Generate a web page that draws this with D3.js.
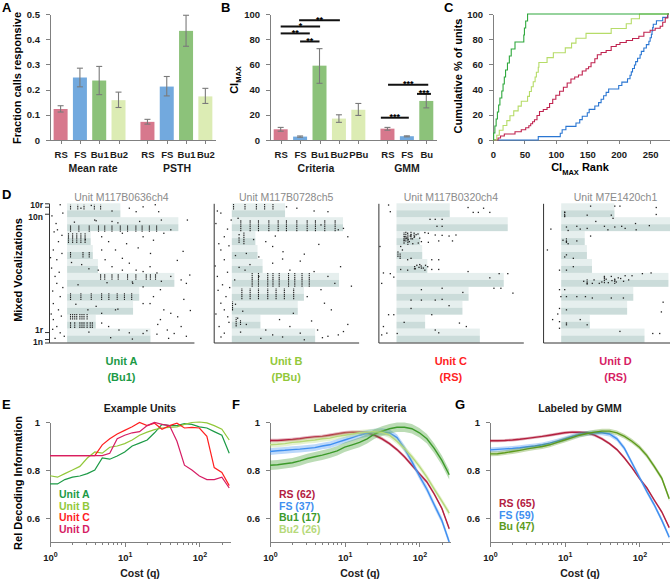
<!DOCTYPE html>
<html>
<head>
<meta charset="utf-8">
<script src="https://cdn.jsdelivr.net/npm/d3@7"></script>
<style>
body { margin: 0; background: #fff; }
svg { font-family: "Liberation Sans", Arial, sans-serif; }
.axis path, .axis line { stroke: #808080; shape-rendering: crispEdges; }
.axis text { fill: #1a1a1a; font-weight: bold; font-size: 9.5px; font-family: "Liberation Sans", Arial, sans-serif; }
.raxis path, .raxis line { stroke: #333; }
.raxis text { fill: #1a1a1a; font-weight: bold; font-size: 8.5px; font-family: "Liberation Sans", Arial, sans-serif; }
</style>
</head>
<body>
<script>
// ---------- A: fraction of calls responsive ----------
const typesA = ['RS', 'FS', 'Bu1', 'Bu2'];
const meanRate = [0.123, 0.248, 0.236, 0.158];
const meanRateLo = [0.111, 0.211, 0.180, 0.129];
const meanRateHi = [0.136, 0.285, 0.292, 0.190];
const psth = [0.072, 0.212, 0.433, 0.173];
const psthLo = [0.063, 0.175, 0.372, 0.145];
const psthHi = [0.082, 0.252, 0.495, 0.205];

// ---------- B: CI max ----------
const typesCrit = ['RS', 'FS', 'Bu1', 'Bu2', 'PBu'];
const ciCrit = [8.5, 2.7, 59, 17, 24];
const ciCritLo = [7, 2.2, 45, 14, 19.5];
const ciCritHi = [10, 3.2, 72.5, 20, 29];
const typesGmm = ['RS', 'FS', 'Bu'];
const ciGmm = [9, 3, 31];
const ciGmmLo = [7.8, 2.5, 25.5];
const ciGmmHi = [10, 3.3, 36.5];
// [from slot, to slot, level, stars]
const sigB = [
	[0.95, 3.05, 95, '**'],
	[0, 2.03, 90, '*'],
	[0, 1.5, 84.6, '**'],
	[1, 2, 78.2, '**'],
	[5.53, 7.6, 43.8, '***'],
	[7.02, 7.74, 36.6, '***'],
	[5.16, 6.6, 17.7, '***']
];

// ---------- C: cumulative CI rank ----------
const cdfBu1 = [[0,0],[1,5.6],[3,11.1],[5,16.7],[7,22.2],[9,27.8],[11,33.3],[14,38.9],[16,44.4],[18,50],[20,55.6],[23,61.1],[26,66.7],[29,72.2],[35,77.8],[49,83.3],[50,88.9],[52,94.4],[55,100],[280,100]];
const cdfBu2 = [[0,0],[6,3.8],[10,7.7],[16,11.5],[22,15.4],[27,19.2],[33,23.1],[40,26.9],[45,30.8],[55,34.6],[58,38.5],[61,42.3],[64,46.2],[67,50],[69,53.8],[72,57.7],[73,61.5],[86,65.4],[96,69.2],[115,73.1],[125,76.9],[132,80.8],[148,84.6],[188,88.5],[212,92.3],[220,96.2],[233,100],[280,100]];
const cdfRS = [[0,0],[8,1.6],[12,3.2],[18,4.8],[35,6.5],[45,8.1],[52,9.7],[57,11.3],[60,12.9],[63,14.5],[66,16.1],[70,19.4],[74,22.6],[80,24.2],[86,25.8],[90,29],[95,32.3],[100,35.5],[106,38.7],[112,41.9],[118,45.2],[124,48.4],[130,50],[136,51.6],[142,54.8],[148,56.5],[152,58.1],[156,61.3],[162,64.5],[166,67.7],[172,69.4],[180,71],[188,74.2],[196,75.8],[202,77.4],[212,79],[222,80.6],[232,82.3],[240,85.5],[250,87.1],[258,88.7],[266,90.3],[270,93.5],[274,96.8],[278,100],[280,100]];
const cdfFS = [[0,0],[72,2.7],[107,5.4],[110,8.1],[116,10.8],[132,13.5],[138,16.2],[142,18.9],[150,21.6],[153,24.3],[162,27],[168,29.7],[172,32.4],[176,35.1],[180,37.8],[184,40.5],[200,43.2],[205,45.9],[214,48.6],[218,51.4],[220,54.1],[222,56.8],[225,59.5],[227,62.2],[230,64.9],[234,67.6],[236,70.3],[240,73],[244,75.7],[248,78.4],[250,81.1],[252,83.8],[253,86.5],[254,89.2],[255,91.9],[260,94.6],[270,97.3],[278,100],[280,100]];

// ---------- D: rasters ----------
const stimDur = [1150, 395, 910, 995, 1480, 425, 355, 325, 1535, 735]; // ms, vocalizations 1..10
const rowTicks = [0.5, 1.5, 18.5, 19.5];
const rowLabels = ['1n', '1r', '10n', '10r'];
// phase-locked spike columns [t ms, row from, row to]
const colsA = [[47,19.1,19.8],[147,19.1,19.8],[233,19.1,19.8],[376,19.1,19.8],[462,19.1,19.8],
	[47,15.9,16.9],[162,15.9,16.9],[305,15.9,16.9],[433,15.9,16.9],[519,15.9,16.9],[619,15.9,16.9],[734,15.9,16.9],[834,15.9,16.9],[949,15.9,16.9],[1035,15.9,16.9],[1135,15.9,16.9],[1235,15.9,16.9],
	[19,14.3,15.7],[76,14.3,15.7],[133,14.3,15.7],[190,14.3,15.7],[248,14.3,15.7],
	[47,12.2,13.0],[219,12.2,13.0],[305,12.2,13.0],
	[462,9.0,9.9],[519,9.0,9.9],[619,9.0,9.9],[705,9.0,9.9],[834,9.0,9.9],[949,9.0,9.9],[1092,9.0,9.9],[1149,9.0,9.9],[1220,9.0,9.9],
	[47,6.1,7.1],[190,6.1,7.1],[333,6.1,7.1],[476,6.1,7.1],[576,6.1,7.1],[691,6.1,7.1],[791,6.1,7.1],[891,6.1,7.1],
	[47,3.3,4.2],[76,3.3,4.2],[105,3.3,4.2],[133,3.3,4.2],[176,3.3,4.2],[205,3.3,4.2],[233,3.3,4.2],[276,3.3,4.2],
	[47,2.1,3.0],[105,2.1,3.0],[176,2.1,3.0],[205,2.1,3.0],[233,2.1,3.0],[276,2.1,3.0],[319,2.1,3.0],[348,2.1,3.0]];
const dotsA = [[-96,19.8],[190,19.3],[333,19.7],[858,19.3],[952,18.8],[1048,19.5],[1216,19.8],[1263,18.8],[1659,17.6],[-153,17.1],[-134,16.2],[-72,15.4],[-120,14.5],[-191,13.3],[-72,12.8],[-143,11.9],[-215,10.7],[-167,9.5],[-143,8.5],[-96,6.6],[-191,5.6],[-120,4.7],[-191,3.3],[-143,2.3],[-96,1.4],[-167,0.6],[476,15.2],[572,14.5],[667,13.3],[762,12.1],[858,11.4],[476,13.3],[524,11.9],[429,10.4],[619,10.9],[762,10.4],[952,10.4],[1048,10.2],[1144,10.9],[1239,10],[1430,9.5],[1573,9],[1645,8.5],[1692,9.7],[1287,7.6],[1191,6.6],[1048,5.6],[1144,5.6],[1334,4.7],[1430,4.2],[1525,3.7],[1287,3.3],[476,2.8],[572,2.3],[715,1.8],[858,1.4],[1048,1.3],[1239,1.2],[1382,1.8],[1477,1.3],[1573,2.3],[1645,0.9],[1048,8],[905,8.5],[286,4.7],[476,4.2],[667,4.7],[380,17.6],[619,17.4],[762,15.7],[1048,15.2],[1191,14.7],[1334,15.7],[1430,16.2],[619,18.9],
	[100,17.3],[400,17.5],[700,17.2],[1000,17.4],[1300,17.6],[250,14.8],[60,11.5],[200,11.2],[300,10.6],[150,8.3],[550,8.6],[900,8.7],[1300,8.8],[120,5.5],[400,5.2],[700,4.8],[300,1.5],[600,0.7],[900,0.5],[1100,1.7],
	[-210,18.2],[-60,18.6],[-180,15.9],[-230,12.2],[-110,10.1],[-200,7.4],[-60,7.9],[-220,4.1],[-80,3.8],[-200,1.9],[-40,0.9],[1520,11.8],[1610,6.2],[1700,4.6],[1250,2.6],[1400,0.6],[1150,12.8],[980,13.6],[820,14.2],[1600,13.1]];
const colsB = [[24,19.1,19.9],[182,19.1,19.9],[339,19.1,19.9],[453,19.1,19.9],[568,19.1,19.9],
	[124,16.0,17.6],[253,16.0,17.6],[368,16.0,17.6],[511,16.0,17.6],[640,16.0,17.6],[754,16.0,17.6],[897,16.0,17.6],[1040,16.0,17.6],[1154,16.0,17.6],[1283,16.0,17.6],[1426,16.0,17.6],
	[167,14.1,15.8],[100,14.3,15.2],
	[281,8.0,10.0],[368,8.0,10.0],[496,8.0,10.0],[568,8.0,10.0],[654,8.0,10.0],[783,8.0,10.0],[869,8.0,10.0],[969,8.0,10.0],[1069,8.0,10.0],
	[139,6.2,7.8],[253,6.2,7.8],[368,6.2,7.8],[496,6.2,7.8],[611,6.2,7.8],[725,6.2,7.8],[854,6.2,7.8],
	[10,4.6,5.9],[60,2.3,3.6],[120,2.5,3.2]];
const dotsB = [[-152,18.6],[-200,18.9],[-9,17.6],[86,17.85],[-104,15.2],[-152,13.3],[-104,11.9],[-200,9.5],[-129,8.3],[-81,6.6],[-152,5.65],[-104,4.7],[-57,3.7],[-176,2.3],[-104,1.35],[754,19.5],[897,19.3],[1135,18.9],[1326,18.8],[1469,16.2],[1540,16.4],[1230,16.9],[468,14.5],[563,13.8],[706,13.05],[372,12.3],[563,11.4],[801,10.4],[944,11.7],[1135,10.2],[1326,9.5],[1421,8.5],[1230,7.6],[1040,6.6],[1278,5.65],[1373,4.7],[849,4.2],[658,3.3],[468,1.8],[563,1.1],[801,2.3],[944,1.35],[1183,1.8],[1326,0.9],[1469,1.1],[1540,1.58],[182,10.4],[372,9.5],[39,9.0],
	[100,15.5],[300,14.8],[600,15.3],[50,12.5],[200,12.8],[100,10.8],[250,11.2],[50,5.5],[150,4.5],[80,3.5],[200,2.6],[120,1.5],[400,0.6],[700,0.8],[1000,0.4],
	[-220,17.1],[-60,16.3],[-180,14.2],[-40,13.9],[-230,11.0],[-60,10.1],[-190,7.5],[-30,7.9],[-220,4.1],[-40,2.9],[-150,0.8],[1600,15.2],[1200,14.1],[1000,12.7],[1500,10.9],[1650,8.1],[1100,3.1],[1600,2.6],[1250,0.7],[700,12.0]];
const colsC = [[104,14.2,15.8],[129,14.5,15.9],[157,14.0,15.6],[200,14.8,15.9],[243,15.0,15.8],[20,12.3,13.2],[50,12.0,12.8]];
const dotsC = [[-110,19.76],[-86,18.8],[987,19.4],[1058,18.7],[1129,18.7],[1287,18.7],[1201,19.3],[462,17.7],[534,17.7],[629,17.7],[558,16.7],[629,16.7],[153,15.7],[200,15.45],[248,15.2],[296,15.6],[391,15.8],[439,15.7],[534,15.45],[629,15.4],[725,15.3],[820,15.45],[105,14.7],[176,14.5],[224,14.2],[343,14.5],[439,14.4],[582,14.6],[772,14.6],[57,13.8],[81,13.3],[-229,13.8],[153,11.9],[200,12.1],[486,11.9],[582,11.9],[57,10.5],[153,10.4],[248,10.6],[343,10.7],[391,10.4],[486,10.5],[582,10.5],[-181,10.0],[-86,9.9],[-38,9.4],[-205,8.5],[987,10.2],[1287,9.3],[1416,9.9],[1535,9.9],[1606,7.1],[1440,7.8],[1344,7.8],[343,7.6],[629,7.8],[915,7.2],[200,6.1],[343,6.1],[534,6.1],[629,6.2],[725,5.3],[200,4.9],[-110,4.0],[-38,4.0],[105,2.9],[486,4.0],[868,2.8],[963,2.3],[-181,2.3],[-134,1.35],[-205,1.1],[9,1.3],[534,1.8],[582,1.4],
	[250,10.9],[280,11.1],[310,10.8],[340,11.0],[370,10.7],[400,11.1],[430,10.9],[260,10.6],[320,11.2],[110,15.2],[140,15.0],[160,14.8],[190,15.3],[220,14.9],[270,15.5],[300,14.3],[320,15.0]];
const colsD = [[48,18.0,18.9],[72,14.3,15.0],[358,8.3,9.2],[596,8.5,9.6],[739,8.4,9.3]];
const dotsD = [[405,19.6],[739,19.6],[810,19.6],[1311,19.4],[1311,18.4],[48,18.7],[48,18.2],[358,18.3],[691,18.3],[715,17.85],[477,17.4],[215,16.7],[72,16.6],[95,16.1],[262,16.3],[358,16.4],[596,16.7],[644,16.2],[739,16.6],[834,16.7],[882,16.4],[1025,17.1],[1034,16.2],[1216,16.8],[-143,16.3],[24,14.7],[72,14.5],[95,14.2],[215,14.6],[405,15.3],[-191,13.3],[72,12.6],[48,12.3],[167,12.1],[167,10.9],[-24,10.4],[72,10.4],[310,8.8],[358,8.5],[429,8.5],[453,9.0],[525,8.5],[596,9.4],[691,9.5],[739,9.0],[787,9.3],[882,9.6],[930,9.0],[977,9.6],[1120,9.9],[1240,10.0],[1692,9.4],[-24,7.6],[48,7.6],[-5,6.6],[72,6.6],[215,6.6],[334,6.6],[429,6.4],[691,6.4],[858,6.4],[-24,4.9],[72,4.7],[-48,4.1],[-119,3.3],[-24,3.0],[72,2.8],[262,3.3],[358,2.55],[1406,5.8],[1382,4.4],[810,1.6],[1263,1.3],[1359,1.3],[-24,2.05],[72,2.55],
	[560,8.7],[620,9.1],[650,8.6],[700,8.9],[760,8.7],[820,9.2],[860,8.8]];
const unitIds = ['Unit M117B0636ch4', 'Unit M117B0728ch5', 'Unit M117B0320ch4', 'Unit M7E1420ch1'];
const unitNames = ['Unit A', 'Unit B', 'Unit C', 'Unit D'];
const unitTypes = ['(Bu1)', '(PBu)', '(RS)', '(RS)'];

// ---------- E-G: decoding vs cost ----------
const costQ = [1, 1.26, 1.58, 2, 2.51, 3.16, 3.98, 5.01, 6.31, 7.94, 10, 12.6, 15.8, 20, 25.1, 31.6, 39.8, 50.1, 63.1, 79.4, 100, 126, 158, 200, 251];
const infoUnitA = [0.742,0.742,0.76,0.77,0.775,0.785,0.80,0.85,0.845,0.858,0.875,0.90,0.912,0.925,0.955,0.99,0.985,0.985,0.993,0.99,0.98,0.975,0.96,0.945,0.87];
const infoUnitB = [0.776,0.77,0.785,0.80,0.815,0.85,0.875,0.87,0.895,0.90,0.91,0.925,0.945,0.958,0.968,0.975,0.978,0.98,0.99,0.998,1.0,0.996,0.985,0.97,0.925];
const infoUnitC = [0.86,0.86,0.86,0.86,0.86,0.86,0.86,0.905,0.93,0.95,0.965,0.98,0.998,0.985,0.995,0.97,0.985,0.995,0.975,0.978,0.975,0.94,0.81,0.79,0.735];
const infoUnitD = [0.86,0.86,0.86,0.86,0.86,0.86,0.86,0.86,0.87,0.93,0.945,0.955,0.96,0.985,0.998,0.99,0.985,0.92,0.82,0.80,0.775,0.76,0.76,0.77,0.725];
const critRS = [0.923,0.923,0.925,0.927,0.93,0.935,0.938,0.94,0.945,0.95,0.955,0.958,0.957,0.955,0.945,0.93,0.91,0.885,0.855,0.82,0.785,0.75,0.70,0.64,0.555];
const critFS = [0.877,0.88,0.882,0.885,0.887,0.89,0.893,0.90,0.905,0.915,0.925,0.935,0.945,0.953,0.958,0.96,0.955,0.935,0.89,0.835,0.775,0.72,0.655,0.59,0.50];
const critBu1 = [0.82,0.822,0.826,0.83,0.838,0.848,0.855,0.862,0.87,0.88,0.895,0.905,0.915,0.93,0.95,0.962,0.972,0.978,0.978,0.972,0.955,0.93,0.89,0.84,0.78];
const critBu2 = [0.905,0.907,0.91,0.915,0.918,0.922,0.925,0.93,0.933,0.94,0.945,0.95,0.955,0.958,0.96,0.957,0.945,0.92,0.89,0.855,0.815,0.77,0.72,0.67,0.62];
const semCrit = [0.007, 0.014, 0.02, 0.012];
const gmmRS = [0.922,0.922,0.923,0.925,0.928,0.932,0.936,0.94,0.945,0.95,0.955,0.958,0.957,0.955,0.945,0.93,0.91,0.885,0.85,0.81,0.765,0.725,0.675,0.625,0.56];
const gmmFS = [0.884,0.886,0.888,0.89,0.893,0.897,0.90,0.905,0.912,0.92,0.93,0.94,0.948,0.953,0.955,0.955,0.95,0.93,0.89,0.83,0.77,0.71,0.655,0.59,0.52];
const gmmBu = [0.867,0.868,0.872,0.877,0.882,0.888,0.893,0.898,0.905,0.915,0.925,0.935,0.945,0.952,0.958,0.962,0.962,0.955,0.94,0.92,0.895,0.86,0.815,0.765,0.68];
const semGmm = [0.006, 0.01, 0.01];

const color = {
	RS: '#d7788d', FS: '#72a9de', Bu1: '#8cc27a', Bu2: '#dcecb4', PBu: '#dcecb4', Bu: '#8cc27a'
};

const svg = d3.select('body').append('svg').attr('width', 670).attr('height', 580);

function letter(x, y, t) {
	svg.append('text').attr('x', x).attr('y', y).attr('font-size', 13).attr('font-weight', 'bold').text(t);
}
function boldText(x, y, t, size, fill, anchor) {
	return svg.append('text').attr('x', x).attr('y', y).attr('font-size', size).attr('font-weight', 'bold')
		.attr('fill', fill || '#1a1a1a').attr('text-anchor', anchor || 'middle').text(t);
}

// grouped bars, positioned by slot
function barPanel(xRange, yDomain, yTicks, yFmt, items) {
	const x = d3.scaleLinear().domain([-0.55, 8]).range(xRange);
	const y = d3.scaleLinear().domain(yDomain).range([140, 14]);
	const g = svg.append('g');
	g.append('g').attr('class', 'axis').attr('transform', 'translate(0,140)')
		.call(d3.axisBottom(x).tickValues(items.map(d => d.slot)).tickFormat((d, i) => items[i].label)
			.tickSize(4).tickSizeOuter(0).tickPadding(7));
	g.append('g').attr('class', 'axis').attr('transform', `translate(${xRange[0]},0)`)
		.call(d3.axisLeft(y).tickValues(yTicks).tickFormat(yFmt).tickSize(4).tickSizeOuter(0).tickPadding(6));
	g.selectAll('rect.bar').data(items).enter().append('rect')
		.attr('x', d => x(d.slot) - 7).attr('width', 14)
		.attr('y', d => y(d.v)).attr('height', d => y(0) - y(d.v))
		.attr('fill', d => color[d.label]);
	const eb = g.selectAll('g.eb').data(items).enter().append('g').attr('stroke', '#7a7a7a').attr('stroke-width', 1.1);
	eb.append('line').attr('x1', d => x(d.slot)).attr('x2', d => x(d.slot)).attr('y1', d => y(d.lo)).attr('y2', d => y(d.hi));
	eb.append('line').attr('x1', d => x(d.slot) - 3).attr('x2', d => x(d.slot) + 3).attr('y1', d => y(d.lo)).attr('y2', d => y(d.lo));
	eb.append('line').attr('x1', d => x(d.slot) - 3).attr('x2', d => x(d.slot) + 3).attr('y1', d => y(d.hi)).attr('y2', d => y(d.hi));
	return { x, y, g };
}

// ---------- A ----------
letter(2, 12, 'A');
const itemsA = typesA.map((t, i) => ({ slot: i, label: t, v: meanRate[i], lo: meanRateLo[i], hi: meanRateHi[i] }))
	.concat(typesA.map((t, i) => ({ slot: 4.5 + i, label: t, v: psth[i], lo: psthLo[i], hi: psthHi[i] })));
barPanel([50, 215], [0, 0.5], [0, 0.1, 0.2, 0.3, 0.4, 0.5], d => (d === 0 ? '0' : d3.format('.1f')(d)), itemsA);
boldText(93, 172, 'Mean rate', 10.5);
boldText(177, 172, 'PSTH', 10.5);
svg.append('text').attr('transform', 'translate(21,78) rotate(-90)').attr('text-anchor', 'middle')
	.attr('font-size', 11).attr('font-weight', 'bold').text('Fraction calls responsive');

// ---------- B ----------
letter(221, 12, 'B');
const itemsB = typesCrit.map((t, i) => ({ slot: i, label: t, v: ciCrit[i], lo: ciCritLo[i], hi: ciCritHi[i] }))
	.concat(typesGmm.map((t, i) => ({ slot: 5.5 + i, label: t, v: ciGmm[i], lo: ciGmmLo[i], hi: ciGmmHi[i] })));
const pB = barPanel([270, 436], [0, 100], [0, 20, 40, 60, 80, 100], d3.format('d'), itemsB);
const sigG = svg.append('g');
sigB.forEach(s => {
	sigG.append('line').attr('x1', pB.x(s[0])).attr('x2', pB.x(s[1])).attr('y1', pB.y(s[2])).attr('y2', pB.y(s[2]))
		.attr('stroke', '#111').attr('stroke-width', 2);
	sigG.append('text').attr('x', (pB.x(s[0]) + pB.x(s[1])) / 2).attr('y', pB.y(s[2]) + 2.5).attr('text-anchor', 'middle')
		.attr('font-size', 9).attr('font-weight', 'bold').text(s[3]);
});
boldText(316, 172, 'Criteria', 10.5);
boldText(407, 172, 'GMM', 10.5);
const ciLab = svg.append('text').attr('transform', 'translate(238,80) rotate(-90)').attr('text-anchor', 'middle')
	.attr('font-size', 11).attr('font-weight', 'bold');
ciLab.append('tspan').text('CI');
ciLab.append('tspan').attr('font-size', 7.5).attr('dy', 3).text('MAX');

// ---------- C ----------
letter(444, 12, 'C');
const xC = d3.scaleLinear().domain([0, 280]).range([493, 669]);
const yC = d3.scaleLinear().domain([0, 100]).range([140, 14]);
svg.append('g').attr('class', 'axis').attr('transform', 'translate(0,140)')
	.call(d3.axisBottom(xC).tickValues([0, 50, 100, 150, 200, 250]).tickSize(4).tickSizeOuter(0).tickPadding(7));
svg.append('g').attr('class', 'axis').attr('transform', 'translate(493,0)')
	.call(d3.axisLeft(yC).tickValues([0, 20, 40, 60, 80, 100]).tickSize(4).tickSizeOuter(0).tickPadding(6));
const stepLine = d3.line().x(d => xC(d[0])).y(d => yC(d[1])).curve(d3.curveStepAfter);
[[cdfFS, '#2a76d2'], [cdfRS, '#c0234f'], [cdfBu2, '#b6dc68'], [cdfBu1, '#2ea83c']].forEach(s => {
	svg.append('path').datum(s[0]).attr('d', stepLine).attr('fill', 'none').attr('stroke', s[1]).attr('stroke-width', 1.1);
});
const rankLab = svg.append('text').attr('x', 580).attr('y', 171).attr('text-anchor', 'middle')
	.attr('font-size', 11).attr('font-weight', 'bold');
rankLab.append('tspan').text('CI');
rankLab.append('tspan').attr('font-size', 7.5).attr('dy', 3.5).text('MAX');
rankLab.append('tspan').attr('dy', -3.5).text(' Rank');
svg.append('text').attr('transform', 'translate(462,76) rotate(-90)').attr('text-anchor', 'middle')
	.attr('font-size', 11).attr('font-weight', 'bold').text('Cumulative % of units');

// ---------- D ----------
letter(2, 199, 'D');
const panelX = d3.scaleBand().domain(unitNames).range([49, 688]).paddingInner(0.12);
const rowY = d3.scaleLinear().domain([0, 20]).range([342.5, 203.3]);
const tx = d3.scaleLinear().domain([-250, 1750]).range([0, panelX.bandwidth()]);
const unitColor = ['#1c9a46', '#92c83a', '#ff1f1f', '#d61d64'];
const unitCols = [colsA, colsB, colsC, colsD];
const unitDots = [dotsA, dotsB, dotsC, dotsD];
unitNames.forEach((u, k) => {
	const g = svg.append('g').attr('transform', `translate(${panelX(u)},0)`);
	stimDur.forEach((dur, v) => {
		g.append('rect').attr('x', tx(0)).attr('width', tx(dur) - tx(0))
			.attr('y', rowY(2 * v + 2)).attr('height', rowY(2 * v + 1) - rowY(2 * v + 2)).attr('fill', '#e6efee');
		g.append('rect').attr('x', tx(0)).attr('width', tx(dur) - tx(0))
			.attr('y', rowY(2 * v + 1)).attr('height', rowY(2 * v) - rowY(2 * v + 1)).attr('fill', '#cbdcda');
	});
	g.selectAll('line.col').data(unitCols[k]).enter().append('line')
		.attr('x1', d => tx(d[0])).attr('x2', d => tx(d[0])).attr('y1', d => rowY(d[1])).attr('y2', d => rowY(d[2]))
		.attr('stroke', '#222').attr('stroke-width', 1.1).attr('stroke-dasharray', '1.4,0.7');
	g.selectAll('rect.spk').data(unitDots[k]).enter().append('rect')
		.attr('x', d => tx(d[0]) - 0.6).attr('y', d => rowY(d[1]) - 0.6).attr('width', 1.3).attr('height', 1.3).attr('fill', '#222');
	const yAx = d3.axisLeft(rowY).tickSizeOuter(0);
	if (k === 0) yAx.tickValues(rowTicks).tickFormat((d, i) => rowLabels[i]).tickSize(4).tickPadding(2);
	else yAx.tickValues([]);
	const ya = g.append('g').attr('class', 'raxis').call(yAx);
	// spread the stacked row labels a little so they do not collide
	ya.selectAll('.tick text').attr('dy', (d, i) => (i % 2 === 1 ? '0.05em' : '0.62em'));
	g.append('g').attr('class', 'raxis').attr('transform', `translate(0,${rowY(0)})`)
		.call(d3.axisBottom(tx).tickValues([]).tickSizeOuter(0));
	g.append('text').attr('x', panelX.bandwidth() / 2).attr('y', 201).attr('text-anchor', 'middle')
		.attr('font-size', 10.5).attr('fill', '#8a8a8a').text(unitIds[k]);
	g.append('text').attr('x', panelX.bandwidth() / 2).attr('y', 365).attr('text-anchor', 'middle')
		.attr('font-size', 11).attr('font-weight', 'bold').attr('fill', unitColor[k]).text(u);
	g.append('text').attr('x', panelX.bandwidth() / 2).attr('y', 381).attr('text-anchor', 'middle')
		.attr('font-size', 11).attr('font-weight', 'bold').attr('fill', unitColor[k]).text(unitTypes[k]);
});
svg.append('text').attr('transform', 'translate(22,270) rotate(-90)').attr('text-anchor', 'middle')
	.attr('font-size', 11).attr('font-weight', 'bold').text('Mixed Vocalizations');

// ---------- E-G ----------
const majors = [1, 10, 100];
const logTicks = [1, 2, 3, 4, 5, 6, 7, 8, 9, 10, 20, 30, 40, 50, 60, 70, 80, 90, 100, 200];
function costPanel(x0, title, series, legendY) {
	const x = d3.scaleLog().domain([1, 257]).range([x0, x0 + 180]);
	const y = d3.scaleLinear().domain([0.5, 1]).range([542, 422]);
	const g = svg.append('g');
	const clipId = 'clip' + x0;
	g.append('clipPath').attr('id', clipId).append('rect').attr('x', x0).attr('y', 400).attr('width', 181).attr('height', 142);
	const xa = g.append('g').attr('class', 'axis').attr('transform', 'translate(0,542)')
		.call(d3.axisBottom(x).tickValues(logTicks).tickFormat(() => '').tickSize(3).tickSizeOuter(0).tickPadding(5));
	xa.selectAll('.tick').filter(d => majors.includes(d)).select('line').attr('y2', 5);
	xa.selectAll('.tick').filter(d => majors.includes(d)).select('text').each(function(d) {
		const t = d3.select(this).attr('y', 12);
		t.append('tspan').text('10');
		t.append('tspan').attr('dy', -4).attr('font-size', 7).text(Math.round(Math.log10(d)));
	});
	g.append('g').attr('class', 'axis').attr('transform', `translate(${x0},0)`)
		.call(d3.axisLeft(y).tickValues([0.6, 0.8, 1]).tickFormat(d => (d === 1 ? '1' : d3.format('.1f')(d))).tickSize(4).tickSizeOuter(0).tickPadding(6));
	const plot = g.append('g').attr('clip-path', `url(#${clipId})`);
	series.forEach(s => {
		const pts = costQ.map((q, i) => [q, s.vals[i]]);
		if (s.sem) {
			plot.append('path').datum(pts)
				.attr('d', d3.area().x(d => x(d[0])).y0(d => y(d[1] - s.sem)).y1(d => y(d[1] + s.sem)))
				.attr('fill', s.color).attr('opacity', 0.35);
		}
		plot.append('path').datum(pts).attr('d', d3.line().x(d => x(d[0])).y(d => y(d[1])))
			.attr('fill', 'none').attr('stroke', s.color).attr('stroke-width', s.sem ? 1.4 : 1.2);
	});
	series.forEach((s, i) => {
		boldText(x0 + 9, legendY + i * 11.7, s.label, 10.5, s.color, 'start');
	});
	boldText(x0 + 90, 412, title, 10.5);
	boldText(x0 + 90, 577, 'Cost (q)', 10.5);
}
letter(2, 409, 'E');
costPanel(50, 'Example Units', [
	{ label: 'Unit A', vals: infoUnitA, color: '#1c9a46' },
	{ label: 'Unit B', vals: infoUnitB, color: '#92c83a' },
	{ label: 'Unit C', vals: infoUnitC, color: '#ff1f1f' },
	{ label: 'Unit D', vals: infoUnitD, color: '#d61d64' }
], 498);
svg.append('text').attr('transform', 'translate(22,483) rotate(-90)').attr('text-anchor', 'middle')
	.attr('font-size', 11).attr('font-weight', 'bold').text('Rel Decoding Information');
letter(232, 409, 'F');
costPanel(270, 'Labeled by criteria', [
	{ label: 'RS (62)', vals: critRS, color: '#b3203f', sem: semCrit[0] },
	{ label: 'FS (37)', vals: critFS, color: '#3f8ff0', sem: semCrit[1] },
	{ label: 'Bu1 (17)', vals: critBu1, color: '#3c9a2a', sem: semCrit[2] },
	{ label: 'Bu2 (26)', vals: critBu2, color: '#b6d97a', sem: semCrit[3] }
], 498);
letter(455, 409, 'G');
costPanel(490, 'Labeled by GMM', [
	{ label: 'RS (65)', vals: gmmRS, color: '#b3203f', sem: semGmm[0] },
	{ label: 'FS (59)', vals: gmmFS, color: '#3f8ff0', sem: semGmm[1] },
	{ label: 'Bu (47)', vals: gmmBu, color: '#5e9a1c', sem: semGmm[2] }
], 507);
</script>
</body>
</html>
